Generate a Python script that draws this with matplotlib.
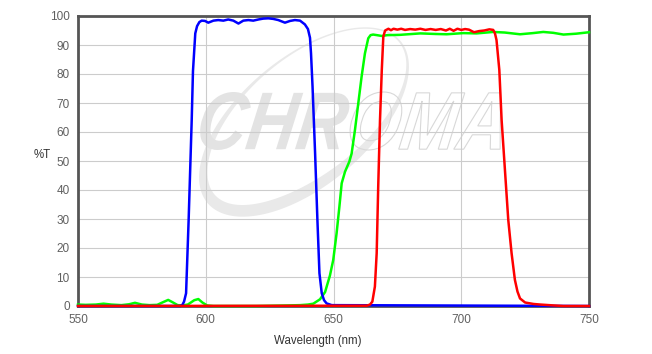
import numpy as np
import matplotlib
matplotlib.use("Agg")
import matplotlib.pyplot as plt
from matplotlib.textpath import TextPath, TextToPath
from matplotlib.font_manager import FontProperties
from matplotlib.patches import PathPatch, Polygon
from matplotlib.transforms import Affine2D

# blue filter (transmission %)
blue_wl = [550, 590, 590.8, 591.5, 592.3, 593.3, 594.5, 595, 595.9, 596.6, 597.5, 598.4,
           599.7, 601.0, 603.0, 604.9, 606.9, 608.8, 610.8, 612.8, 614.7, 616.7, 618.6,
           620.6, 622.5, 624.5, 626.4, 628.4, 631.0, 633.0, 634.9, 636.9, 638.8, 640.0,
           640.8, 641.2, 641.8, 642.8, 643.7, 644.5, 645.4, 646.3, 647.3, 649.3, 750]
blue_t = [0, 0, 0.3, 1.5, 4.4, 29.6, 64, 81, 94, 96.5, 97.9, 98.4,
          98.3, 97.7, 98.4, 98.6, 98.4, 98.8, 98.4, 97.4, 98.4, 98.6, 98.4,
          98.8, 99.1, 99.2, 99.0, 98.6, 97.7, 98.3, 98.6, 98.4, 97.1, 95.5,
          92.5, 87.1, 75.6, 52.6, 29.7, 11.3, 4.4, 2.0, 0.9, 0.3, 0]

# green filter
green_wl = [550, 553, 557, 560, 563, 567, 570, 572.3, 575, 578, 581, 583.5, 585.3, 587,
            589, 591, 593, 595.5, 597.1, 598.7, 600.5, 603, 610, 620, 626, 632, 637, 640,
            642.1, 644.7, 646.7, 648.6, 649.9, 651.2, 652.3, 653.2, 654.5, 656.2, 657.1,
            658.4, 659.7, 661.0, 662.3, 663.6, 664.5, 665.5, 667, 669, 671, 676, 684, 690,
            694.3, 700.8, 706, 712.5, 717, 723, 728, 732.1, 736, 740, 745, 750]
green_t = [0.5, 0.4, 0.5, 0.8, 0.5, 0.3, 0.6, 1.1, 0.5, 0.3, 0.4, 1.4, 2.1, 1.3,
           0.3, 0.2, 0.5, 2.0, 2.4, 1.2, 0.2, 0, 0, 0, 0.1, 0.2, 0.3, 0.5,
           0.8, 2.3, 4.8, 10.5, 15.9, 25, 34.2, 42.3, 46.3, 49.8, 52.6,
           60.7, 69.9, 79.1, 87.1, 92.3, 93.4, 93.6, 93.4, 93.1, 93.4, 93.5, 94.0, 93.8,
           93.7, 94.1, 94.0, 94.5, 94.3, 93.7, 94.1, 94.5, 94.2, 93.6, 93.9, 94.4]

# red filter
red_wl = [550, 663, 664.3, 665.2, 666.2, 666.9, 667.5, 668.2, 668.9, 669.5, 670.2,
          671.5, 672.5, 673.5, 675, 676.5, 678, 680, 682, 684, 686, 688, 690, 692, 694,
          695.5, 697, 698.5, 700, 701.5, 703, 705, 707, 709, 711, 712.5,
          713.2, 713.8, 714.9, 715.8, 717.1, 718.4, 719.7, 721.0, 722, 723.0, 725.0,
          728.3, 731, 736, 740, 750]
red_t = [0, 0.1, 0.5, 1.5, 6.7, 18.2, 41.1, 64.1, 81.4, 92.9, 95.0,
         95.6, 95.1, 95.6, 95.3, 95.6, 95.2, 95.5, 95.3, 95.6, 95.2, 95.5, 95.2, 95.5, 95.0,
         95.6, 94.9, 95.6, 95.2, 95.5, 95.3, 94.4, 94.8, 95.0, 95.4, 95.2,
         94.0, 91.7, 81.4, 64.1, 46.9, 29.7, 18.2, 9.0, 5.0, 2.6, 1.2,
         0.7, 0.5, 0.2, 0, 0]

x_ticks = [550, 600, 650, 700, 750]
y_ticks = list(range(0, 101, 10))

W, H = 652, 354
fig = plt.figure(figsize=(W / 100, H / 100), dpi=100)
ax = fig.add_axes([78 / W, 1 - 306 / H, (589 - 78) / W, (306 - 16) / H])

# watermark: swoosh + CHROMA lettering, all placed in pixel coords
def px_tr():
    return Affine2D().scale(1 / W, 1 / H) + fig.transFigure

t = np.linspace(0, 2 * np.pi, 400)
a, b, ang = 126, 64, np.deg2rad(40)
wid = 1.5 + 11 * ((1 + np.cos(t - 1.2 * np.pi)) / 2) ** 1.5
def ell(aa, bb):
    x = aa * np.cos(t)
    y = bb * np.sin(t)
    return np.c_[304 + x * np.cos(ang) - y * np.sin(ang), (H - 122) + x * np.sin(ang) + y * np.cos(ang)]
outer = ell(a, b)
inner = ell(a - wid, b - wid)
crescent = np.vstack([outer, inner[::-1]])
ax.add_patch(Polygon(crescent, closed=True, facecolor="#e9e9e9", edgecolor="none",
                     transform=px_tr(), zorder=0.1))

fp = FontProperties(family="Liberation Sans", weight="bold", style="italic")
w_chr = TextToPath().get_text_width_height_descent("CHR", fp, ismath=False)[0]
p_all = TextPath((0, 0), "CHROMA", prop=fp)
p_chr = TextPath((0, 0), "CHR", prop=fp)
p_oma = TextPath((w_chr, 0), "OMA", prop=fp)
ext = p_all.get_extents()
sx = (500 - 197) / ext.width
sy = (150 - 92) / ext.height
txt_tr = (Affine2D().translate(-ext.x0, -ext.y0).skew_deg(10, 0)
          .scale(sx, sy).translate(197, H - 150)) + px_tr()
ax.add_patch(PathPatch(p_chr, facecolor="#e3e3e3", edgecolor="none", transform=txt_tr, zorder=0.2))
ax.add_patch(PathPatch(p_oma, facecolor="none", edgecolor="#d8d8d8", lw=0.8, transform=txt_tr, zorder=0.2))

ax.plot(green_wl, green_t, color="#00ff00", lw=1.8, zorder=3, clip_on=False)
ax.plot(blue_wl, blue_t, color="#0000ff", lw=1.8, zorder=4, clip_on=False)
ax.plot(red_wl, red_t, color="#ff0000", lw=1.8, zorder=5, clip_on=False)

ax.set_xlim(550, 750)
ax.set_ylim(0, 100)
ax.set_xticks(x_ticks)
ax.set_yticks(y_ticks)
ax.set_axisbelow(True)
ax.grid(True, color="#cccccc", lw=0.8)
ax.tick_params(length=0, labelsize=8.5, labelcolor="#606060", pad=6)
for lab in ax.get_xticklabels() + ax.get_yticklabels():
    lab.set_family("Liberation Sans")
for s in ax.spines.values():
    s.set_color("#555555")
    s.set_linewidth(2)

fig.text(42 / W, 1 - 155 / H, "%T", ha="center", va="center", fontsize=8.3,
         color="#333333", family="Liberation Sans")
fig.text(318 / W, 1 - 341 / H, "Wavelength (nm)", ha="center", va="center", fontsize=8.3,
         color="#333333", family="Liberation Sans")

fig.savefig("out.png", dpi=100)
